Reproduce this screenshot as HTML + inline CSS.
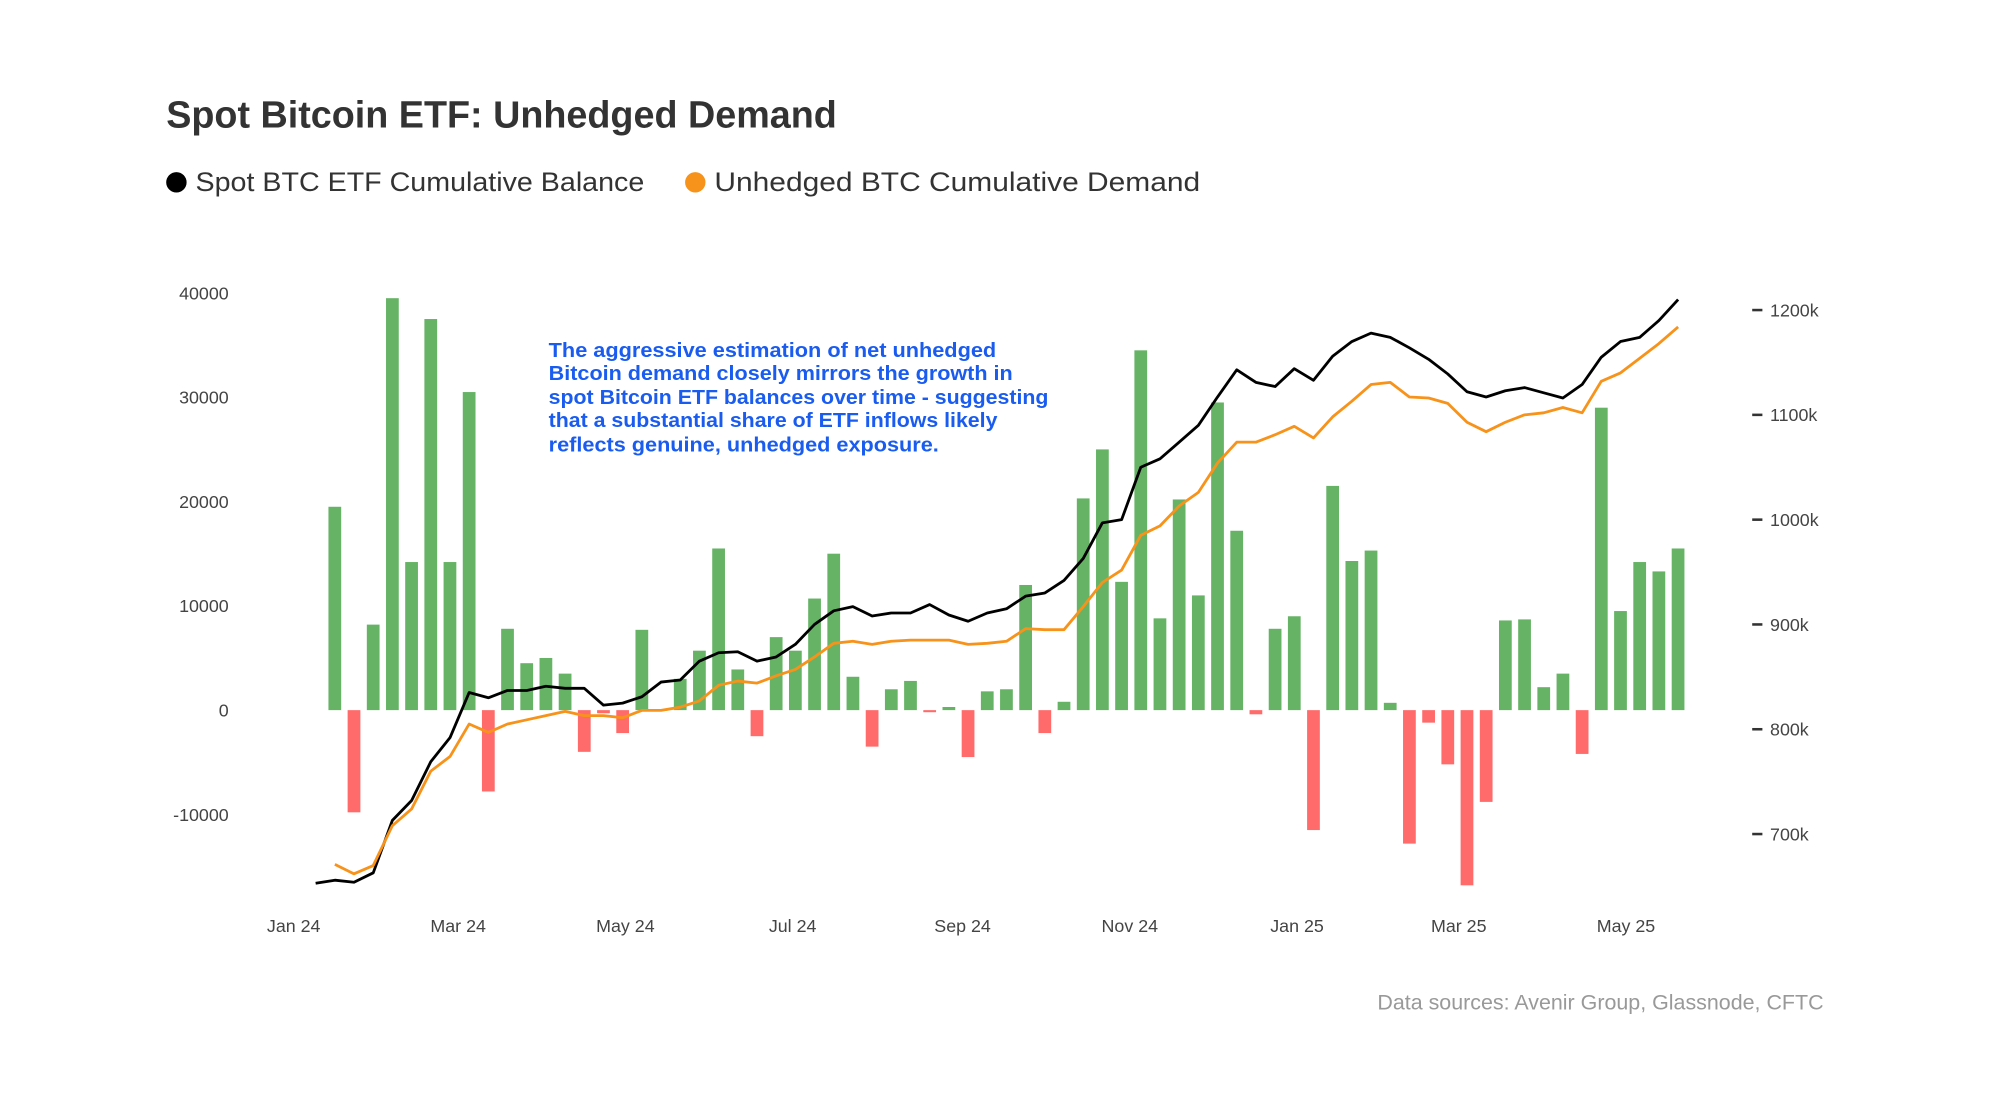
<!DOCTYPE html>
<html><head><meta charset="utf-8"><style>
html,body{margin:0;padding:0;background:#fff;}
svg{display:block;font-family:"Liberation Sans",sans-serif;}
</style></head><body>
<svg id="chart" width="2000" height="1113" viewBox="0 0 1568 873" xmlns="http://www.w3.org/2000/svg">
<rect width="1568" height="873" fill="#fff"/>
<text x="130" y="100" font-size="30" font-weight="bold" fill="#333" textLength="526" lengthAdjust="spacingAndGlyphs">Spot Bitcoin ETF: Unhedged Demand</text>
<g>
<g>
<circle cx="138" cy="143" r="8" fill="#000"/>
<text x="153" y="150" font-size="21" fill="#333" textLength="352" lengthAdjust="spacingAndGlyphs">Spot BTC ETF Cumulative Balance</text></g>
<g>
<circle cx="545" cy="143" r="8" fill="#f7931a"/>
<text x="560" y="150" font-size="21" fill="#333" textLength="381" lengthAdjust="spacingAndGlyphs">Unhedged BTC Cumulative Demand</text></g>
</g>
<g id="bars"></g>
<g id="lines"></g>
<g id="laxis"></g>
<g id="raxis"></g>
<g id="xaxis"></g>
<g font-size="16" font-weight="bold" fill="#1a5cf0">
<text x="430" y="280" textLength="351" lengthAdjust="spacingAndGlyphs">The aggressive estimation of net unhedged</text>
<text x="430" y="298" textLength="364" lengthAdjust="spacingAndGlyphs">Bitcoin demand closely mirrors the growth in</text>
<text x="430" y="317" textLength="392" lengthAdjust="spacingAndGlyphs">spot Bitcoin ETF balances over time - suggesting</text>
<text x="430" y="335" textLength="352" lengthAdjust="spacingAndGlyphs">that a substantial share of ETF inflows likely</text>
<text x="430" y="354" textLength="306" lengthAdjust="spacingAndGlyphs">reflects genuine, unhedged exposure.</text>
</g>
<text x="1430" y="792" font-size="17" fill="#999" text-anchor="end" textLength="350" lengthAdjust="spacingAndGlyphs">Data sources: Avenir Group, Glassnode, CFTC</text>
</svg>
<script>
const flows=[19500,-9800,8200,39500,14200,37500,14200,30500,-7800,7800,4500,5000,3500,-4000,-300,-2200,7700,0,3000,5700,15500,3900,-2500,7000,5700,10700,15000,3200,-3500,2000,2800,-200,300,-4500,1800,2000,12000,-2200,800,20300,25000,12300,34500,8800,20200,11000,29500,17200,-400,7800,9000,-11500,21500,14300,15300,700,-12800,-1200,-5200,-16800,-8800,8600,8700,2200,3500,-4200,29000,9500,14200,13300,15500];
const etfBalance=[653,656,654,663,713,732,769,792,835,830,837,837,841,839,839,823,825,831,845,847,865,873,874,865,869,881,900,913,917,908,911,911,919,909,903,911,915,927,930,942,963,997,1000,1050,1058,1074,1090,1117,1143,1131,1127,1144,1133,1156,1170,1178,1174,1164,1153,1139,1122,1117,1123,1126,1121,1116,1129,1155,1170,1174,1190,1210];
const unhedged=[671,662,670,708,724,760,774,805,797,805,809,813,817,813,813,811,818,818,821,827,842,846,844,851,857,869,882,884,881,884,885,885,885,881,882,884,896,895,895,917,940,952,985,994,1013,1026,1054,1074,1074,1081,1089,1078,1098,1113,1129,1131,1117,1116,1111,1093,1084,1093,1100,1102,1107,1102,1132,1140,1154,1168,1184];
const leftTicks=[40000,30000,20000,10000,0,-10000];
const rightTicks=[1200,1100,1000,900,800,700];
const xTickLabels=["Jan 24","Mar 24","May 24","Jul 24","Sep 24","Nov 24","Jan 25","Mar 25","May 25"];
const xTickDates=["2024-01-01","2024-03-01","2024-05-01","2024-07-01","2024-09-01","2024-11-01","2025-01-01","2025-03-01","2025-05-01"];
const firstWeek="2024-01-16";

const NS="http://www.w3.org/2000/svg";
const day0=Date.parse("2024-01-01"), pxDay=1045/486;
function xDate(d){return 230+(Date.parse(d)-day0)/864e5*pxDay;}
function xWeek(i){return xDate(firstWeek)+i*7*pxDay;}
function yL(v){return 557-v*81.8/10000;}
function yR(v){return 572-(v-800)*0.822;}
function mk(tag,attrs,parent){const e=document.createElementNS(NS,tag);for(const k in attrs)e.setAttribute(k,attrs[k]);parent.appendChild(e);return e;}

const bars=document.getElementById('bars');
flows.forEach((v,i)=>{
  const x=xWeek(i), y0=yL(0), y1=yL(v);
  const r=mk('rect',{x:x-5,y:Math.min(y0,y1),width:10,height:Math.max(Math.abs(y1-y0),0.5),fill:v>=0?'#66b366':'#ff6b6b'},bars);
  
  
});
const lines=document.getElementById('lines');
const p1=etfBalance.map((v,j)=>xWeek(j-1).toFixed(1)+','+yR(v).toFixed(1)).join(' ');
const l1=mk('polyline',{points:p1,fill:'none',stroke:'#000','stroke-width':2.2,'stroke-linejoin':'round'},lines);


const p2=unhedged.map((v,j)=>xWeek(j).toFixed(1)+','+yR(v).toFixed(1)).join(' ');
const l2=mk('polyline',{points:p2,fill:'none',stroke:'#f7931a','stroke-width':2.2,'stroke-linejoin':'round'},lines);



const la=document.getElementById('laxis');
leftTicks.forEach(v=>{
  const t=mk('text',{x:179,y:yL(v)+5,'font-size':14,fill:'#444','text-anchor':'end'},la);
  t.textContent=String(v);
  
  
});
const ra=document.getElementById('raxis');
rightTicks.forEach(v=>{
  const y=yR(v);
  const ln=mk('line',{x1:1374,x2:1382,y1:y,y2:y,stroke:'#333','stroke-width':2},ra);
  
  
  const t=mk('text',{x:1388,y:y+5,'font-size':14,fill:'#444'},ra);
  t.textContent=v+'k';
  
  
});
const xa=document.getElementById('xaxis');
xTickLabels.forEach((lab,i)=>{
  const t=mk('text',{x:xDate(xTickDates[i]),y:731,'font-size':14,fill:'#444','text-anchor':'middle'},xa);
  t.textContent=lab;
  
  
});
</script>
</body></html>
